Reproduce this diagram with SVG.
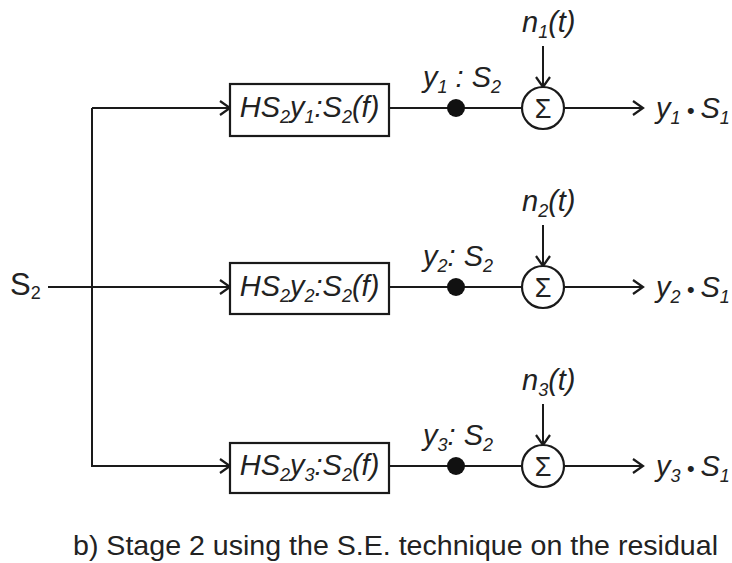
<svg xmlns="http://www.w3.org/2000/svg" width="732" height="563" viewBox="0 0 732 563">
<defs>
<marker id="arr" markerWidth="16" markerHeight="18" refX="13" refY="9" orient="auto" markerUnits="userSpaceOnUse">
<polyline points="3,2 13,9 3,16" fill="none" stroke="#1a1a1a" stroke-width="2.2"/>
</marker>
<style>
.ln{stroke:#1a1a1a;stroke-width:2;fill:none}
.bx{stroke:#1a1a1a;stroke-width:2.2;fill:#fff}
.t{font-family:"Liberation Sans",Arial,sans-serif;font-style:italic;fill:#222}
.u{font-family:"Liberation Sans",Arial,sans-serif;fill:#222}
.big{font-size:29px}
.sub{font-size:18px}
.cap{font-family:"Liberation Sans",Arial,sans-serif;font-size:27.5px;fill:#222}
.sig{font-family:"Liberation Sans",Arial,sans-serif;font-size:27px;fill:#222}
</style>
</defs>
<rect width="732" height="563" fill="#fff"/>
<g id="connectors">
<polyline class="ln" points="92,108 92,466 230,466" marker-end="url(#arr)"/>
<line class="ln" x1="92" y1="108" x2="230" y2="108" marker-end="url(#arr)"/>
<line class="ln" x1="48" y1="287" x2="230" y2="287" marker-end="url(#arr)"/>
<line class="ln" x1="389" y1="108" x2="522" y2="108"/>
<line class="ln" x1="389" y1="287" x2="522" y2="287"/>
<line class="ln" x1="389" y1="466" x2="522" y2="466"/>
<line class="ln" x1="543" y1="46" x2="543" y2="87" marker-end="url(#arr)"/>
<line class="ln" x1="543" y1="225" x2="543" y2="266" marker-end="url(#arr)"/>
<line class="ln" x1="543" y1="404" x2="543" y2="445" marker-end="url(#arr)"/>
<line class="ln" x1="564" y1="108" x2="643" y2="108" marker-end="url(#arr)"/>
<line class="ln" x1="564" y1="287" x2="643" y2="287" marker-end="url(#arr)"/>
<line class="ln" x1="564" y1="466" x2="643" y2="466" marker-end="url(#arr)"/>
</g>
<g id="input">
<text class="u" style="font-size:31px" x="10" y="295">S<tspan class="sub" dy="4">2</tspan></text>
</g>
<g id="filter1">
<rect class="bx" x="230" y="84" width="159" height="52"/>
<text class="t big" x="309.5" y="117" text-anchor="middle">HS<tspan class="sub" dy="6">2</tspan><tspan dy="-6">y</tspan><tspan class="sub" dy="6">1</tspan><tspan dy="-6">:S</tspan><tspan class="sub" dy="6">2</tspan><tspan dy="-6">(f)</tspan></text>
</g>
<g id="filter2">
<rect class="bx" x="230" y="263" width="159" height="51"/>
<text class="t big" x="309.5" y="296" text-anchor="middle">HS<tspan class="sub" dy="6">2</tspan><tspan dy="-6">y</tspan><tspan class="sub" dy="6">2</tspan><tspan dy="-6">:S</tspan><tspan class="sub" dy="6">2</tspan><tspan dy="-6">(f)</tspan></text>
</g>
<g id="filter3">
<rect class="bx" x="230" y="443" width="159" height="50"/>
<text class="t big" x="309.5" y="475" text-anchor="middle">HS<tspan class="sub" dy="6">2</tspan><tspan dy="-6">y</tspan><tspan class="sub" dy="6">3</tspan><tspan dy="-6">:S</tspan><tspan class="sub" dy="6">2</tspan><tspan dy="-6">(f)</tspan></text>
</g>
<g id="tap1">
<circle cx="456" cy="108" r="9" fill="#111"/>
<text class="t big" x="423" y="87">y<tspan class="sub" dy="6">1</tspan><tspan dy="-6"> : S</tspan><tspan class="sub" dy="6">2</tspan></text>
</g>
<g id="tap2">
<circle cx="456" cy="287" r="9" fill="#111"/>
<text class="t big" x="423" y="266">y<tspan class="sub" dy="6">2</tspan><tspan dy="-6">: S</tspan><tspan class="sub" dy="6">2</tspan></text>
</g>
<g id="tap3">
<circle cx="456" cy="466" r="9" fill="#111"/>
<text class="t big" x="423" y="445">y<tspan class="sub" dy="6">3</tspan><tspan dy="-6">: S</tspan><tspan class="sub" dy="6">2</tspan></text>
</g>
<g id="sum1">
<circle class="bx" cx="543" cy="108" r="21"/>
<text class="sig" x="543" y="118" text-anchor="middle">Σ</text>
<text class="t big" x="522" y="32">n<tspan class="sub" dy="6">1</tspan><tspan dy="-6">(t)</tspan></text>
</g>
<g id="sum2">
<circle class="bx" cx="543" cy="287" r="21"/>
<text class="sig" x="543" y="297" text-anchor="middle">Σ</text>
<text class="t big" x="522" y="211">n<tspan class="sub" dy="6">2</tspan><tspan dy="-6">(t)</tspan></text>
</g>
<g id="sum3">
<circle class="bx" cx="543" cy="466" r="21"/>
<text class="sig" x="543" y="476" text-anchor="middle">Σ</text>
<text class="t big" x="522" y="390">n<tspan class="sub" dy="6">3</tspan><tspan dy="-6">(t)</tspan></text>
</g>
<g id="out1">
<text class="t big" x="656" y="118">y<tspan class="sub" dy="6">1</tspan><tspan dy="-6" style="font-size:22px"> • </tspan><tspan>S</tspan><tspan class="sub" dy="6">1</tspan></text>
</g>
<g id="out2">
<text class="t big" x="656" y="297">y<tspan class="sub" dy="6">2</tspan><tspan dy="-6" style="font-size:22px"> • </tspan><tspan>S</tspan><tspan class="sub" dy="6">1</tspan></text>
</g>
<g id="out3">
<text class="t big" x="656" y="476">y<tspan class="sub" dy="6">3</tspan><tspan dy="-6" style="font-size:22px"> • </tspan><tspan>S</tspan><tspan class="sub" dy="6">1</tspan></text>
</g>
<g id="caption">
<text class="cap" x="73" y="555" textLength="645" lengthAdjust="spacingAndGlyphs">b) Stage 2 using the S.E. technique on the residual</text>
</g>
</svg>
